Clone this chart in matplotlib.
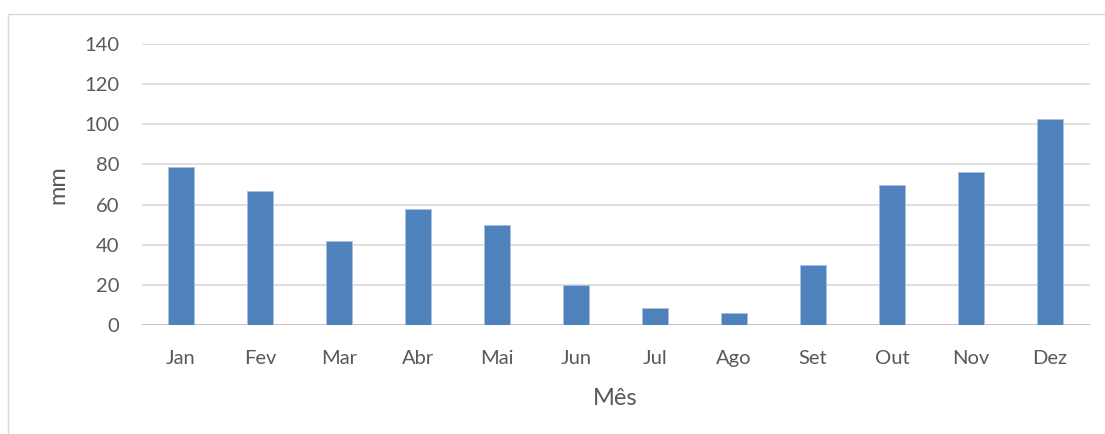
import matplotlib.pyplot as plt
from matplotlib.patches import Rectangle

months = ["Jan", "Fev", "Mar", "Abr", "Mai", "Jun", "Jul", "Ago", "Set", "Out", "Nov", "Dez"]
rain_mm = [78.5, 66.8, 41.8, 57.9, 49.8, 20.0, 8.3, 6.1, 29.7, 69.8, 76.0, 102.8]
yticks = [0, 20, 40, 60, 80, 100, 120, 140]

BAR = "#4f81bd"
GRID = "#d9d9d9"
TEXT = "#595959"

plt.rcParams["font.family"] = ["Lato", "DejaVu Sans"]

fig = plt.figure(figsize=(11.05, 4.34), dpi=100)
W, H = 1105, 434
ax = fig.add_axes([141.5 / W, 1 - 325 / H, (1089.5 - 141.5) / W, (325 - 44) / H])

# chart-area border like the spreadsheet frame
fig.patches.append(Rectangle((8 / W, -0.01), 1.2, 1 - 14 / H + 0.01,
                             transform=fig.transFigure, fill=False,
                             edgecolor="#d9d9d9", linewidth=1))

x = range(len(months))
ax.bar(x, rain_mm, width=0.32, color=BAR, edgecolor="#a9c0dd", linewidth=0.6, zorder=3)

ax.set_xlim(-0.5, len(months) - 0.5)
ax.set_ylim(0, 140)
ax.set_yticks(yticks)
ax.set_xticks(list(x))
ax.set_xticklabels(months)
ax.yaxis.grid(True, color=GRID, linewidth=1.2, zorder=0)
ax.set_axisbelow(True)

for name, spine in ax.spines.items():
    spine.set_visible(False)
ax.axhline(0, color="#bfbfbf", linewidth=1.2, zorder=2)

ax.tick_params(axis="both", length=0, labelsize=14.5, colors=TEXT)
ax.tick_params(axis="y", pad=16)
ax.tick_params(axis="x", pad=18)

ax.set_ylabel("mm", fontsize=17, color=TEXT, labelpad=11)
ax.set_xlabel("Mês", fontsize=17, color=TEXT, labelpad=15)

fig.savefig("out.png", dpi=100, facecolor="white")
